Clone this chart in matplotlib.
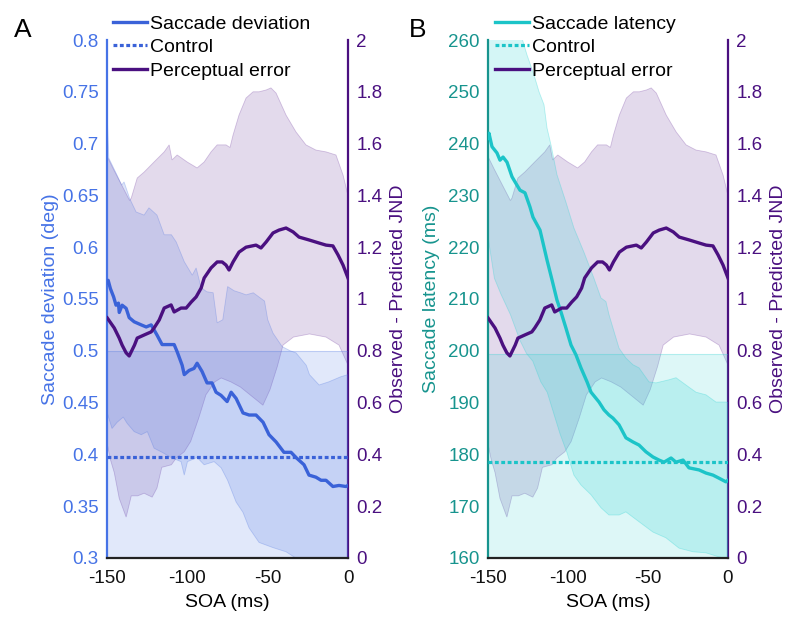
import numpy as np
import matplotlib.pyplot as plt
from matplotlib.lines import Line2D

plt.rcParams['font.family'] = ['Liberation Sans', 'DejaVu Sans']
plt.rcParams['axes.unicode_minus'] = False

# ---- perceptual error (right axis, same in both panels)
pe_soa = [-150, -145.6, -142.5, -140.7, -138.2, -136.3, -133, -131.3, -127, -122.6,
          -120.8, -117.6, -114.5, -110.2, -108.3, -104, -100.8, -97.7, -94.6, -91.5,
          -89.6, -85.3, -81.5, -78.4, -76, -74.1, -71.6, -67.9, -63.5, -57.3,
          -54.2, -51, -46.7, -43, -38.6, -34.2, -30.5, -24.3, -18, -13.7,
          -9.4, -6.2, -3.1, 0]
pe_mean = [0.927, 0.888, 0.849, 0.822, 0.792, 0.780, 0.822, 0.849, 0.861, 0.873,
           0.888, 0.919, 0.965, 0.977, 0.950, 0.965, 0.965, 0.988, 1.008, 1.042,
           1.081, 1.12, 1.143, 1.143, 1.131, 1.112, 1.143, 1.181, 1.2, 1.208,
           1.197, 1.22, 1.255, 1.266, 1.274, 1.259, 1.239, 1.228, 1.216, 1.208,
           1.205, 1.17, 1.131, 1.081]
pe_up_soa = [-150, -146, -141, -136, -135, -131.3, -127, -120.8, -114.5, -111.4,
             -109.6, -106.4, -100.2, -94, -89.6, -85.3, -81.5, -76, -73.5, -71.6,
             -67.9, -63.5, -59.1, -55.4, -51, -48, -44.8, -38.6, -32.4, -26.2,
             -20, -13.7, -7.5, -3.1, 0]
pe_up = [1.55, 1.50, 1.44, 1.38, 1.39, 1.467, 1.49, 1.529, 1.568, 1.595,
         1.537, 1.556, 1.529, 1.506, 1.529, 1.568, 1.595, 1.595, 1.585, 1.633,
         1.71, 1.776, 1.8, 1.8, 1.807, 1.815, 1.795, 1.71, 1.645, 1.595,
         1.575, 1.568, 1.556, 1.479, 1.40]
pe_lo_soa = [-150, -148, -145.6, -142.5, -138.2, -135, -131, -127, -122, -119,
             -116, -110, -107, -102, -98, -93, -88.5, -83, -79, -73,
             -67, -59, -53, -48.6, -44, -40.5, -34, -24, -13.7, -5.6, 0]
pe_lo = [0.44, 0.38, 0.33, 0.23, 0.158, 0.24, 0.24, 0.25, 0.235, 0.27,
         0.35, 0.36, 0.386, 0.41, 0.45, 0.54, 0.63, 0.68, 0.695, 0.68,
         0.66, 0.62, 0.59, 0.65, 0.74, 0.822, 0.853, 0.865, 0.853, 0.822, 0.745]

# ---- panel A: saccade deviation (deg)
dev_soa = [-150, -149.4, -148, -146, -144.5, -143, -142.5, -140.7, -138.2, -136.3,
           -133.2, -128.8, -125.7, -122.6, -118.9, -115.8, -112.7, -108.3, -106.4, -103.3,
           -102, -99, -95.9, -94, -90.9, -87.8, -84.7, -82.2, -79.1, -75.3,
           -72.8, -69.7, -65.4, -61.6, -57.3, -52.9, -49.2, -44.8, -39.9, -35.5,
           -32.4, -27.4, -24.3, -20, -16.8, -13.7, -9.4, -5.6, -1.3, 0]
dev_mean = [0.566, 0.568, 0.560, 0.552, 0.544, 0.546, 0.537, 0.544, 0.541, 0.532,
            0.528, 0.525, 0.523, 0.525, 0.515, 0.506, 0.506, 0.506, 0.499, 0.486,
            0.477, 0.481, 0.483, 0.488, 0.480, 0.469, 0.469, 0.460, 0.457, 0.451,
            0.460, 0.454, 0.440, 0.438, 0.438, 0.431, 0.419, 0.412, 0.402, 0.402,
            0.397, 0.390, 0.380, 0.378, 0.375, 0.375, 0.369, 0.370, 0.369, 0.370]
dev_up_soa = [-150, -149, -144, -141, -139.5, -136, -132, -127, -124, -119,
              -114.5, -110, -107, -102, -97, -94.6, -91.5, -88, -84, -81.5,
              -78, -75, -71, -67, -63.5, -59, -52, -50, -46.7, -41,
              -36, -32.4, -26, -24, -18, -12, -4.4, 0]
dev_up = [0.728, 0.686, 0.670, 0.660, 0.663, 0.647, 0.634, 0.631, 0.638, 0.631,
          0.612, 0.612, 0.605, 0.586, 0.573, 0.580, 0.561, 0.557, 0.556, 0.527,
          0.530, 0.562, 0.558, 0.556, 0.554, 0.556, 0.548, 0.530, 0.517, 0.504,
          0.500, 0.498, 0.486, 0.477, 0.467, 0.470, 0.475, 0.477]
dev_lo_soa = [-150, -147, -143.8, -140, -137.6, -133.2, -128.8, -125, -120.8, -115.8,
              -110.2, -104, -102, -100, -94, -89.6, -83.4, -79, -75, -69.7,
              -65.4, -61.6, -55.4, -46.7, -38.6, -33.6, -25, -10, 0]
dev_lo = [0.44, 0.425, 0.431, 0.436, 0.430, 0.422, 0.419, 0.422, 0.406, 0.402,
          0.397, 0.393, 0.380, 0.393, 0.397, 0.390, 0.393, 0.387, 0.375, 0.354,
          0.344, 0.329, 0.315, 0.310, 0.306, 0.301, 0.29, 0.28, 0.275]
dev_ctrl_soa = [-150, 0]
dev_ctrl = [0.397, 0.397]
dev_ctrl_lo = [0.29, 0.29]
dev_ctrl_hi = [0.5, 0.5]
dev_ticks = [0.3, 0.35, 0.4, 0.45, 0.5, 0.55, 0.6, 0.65, 0.7, 0.75, 0.8]
dev_ticklabels = ['0.3', '0.35', '0.4', '0.45', '0.5', '0.55', '0.6', '0.65', '0.7', '0.75', '0.8']

# ---- panel B: saccade latency (ms)
lat_soa = [-150, -149.4, -147.5, -144.4, -142.5, -140.6, -138.1, -135, -133.1, -130,
           -126.9, -123.8, -121.9, -117.5, -113.1, -110, -106.9, -104.4, -101.3, -98.1,
           -95, -91.9, -88.1, -85.6, -80.6, -77.5, -74.4, -71.9, -68.1, -63.8,
           -59.4, -55.6, -51.3, -46.9, -43.1, -40, -35.6, -32.5, -28.1, -24.4,
           -18.1, -13.8, -9.4, -5.6, -1.3, 0]
lat_mean = [241, 242, 239.4, 238.2, 236.8, 237.4, 236.4, 233.6, 232.6, 231,
            230.5, 227.8, 225.8, 223.3, 217.5, 213.7, 209.8, 207.5, 204.4, 201.1,
            199.2, 196.7, 194, 192, 190.1, 188.6, 187.6, 187, 185.7, 183.2,
            182.4, 181.8, 180.5, 179.5, 178.9, 178.5, 179.3, 178.5, 178.9, 177.4,
            177, 176.4, 176, 175.4, 174.7, 175]
lat_up_soa = [-150, -129.4, -125.6, -121.2, -118.1, -115, -113.1, -110.6, -106.9, -101.3,
              -96.3, -90, -83.8, -79.4, -76.3, -74.4, -71.9, -68.1, -63.8, -59.4,
              -55.6, -49.4, -45, -36.9, -32.5, -26.3, -20, -13.8, -7.5, -1.3, 0]
lat_up = [265, 261, 257.1, 253.2, 250, 247.5, 243, 239.7, 234, 228.7,
          223.7, 219, 214, 210.2, 209.5, 207, 204.4, 200.5, 198.6, 197.3,
          196.7, 194, 193.8, 194.4, 194.8, 193.4, 192, 191.5, 190.1, 190.1, 190]
lat_lo_soa = [-150, -146, -142, -136, -130, -126, -122, -117, -113, -109,
              -105, -100.6, -96.3, -91.9, -85.6, -79.4, -74.4, -68.1, -63.8, -55.6,
              -46.9, -38.8, -30.6, -21.9, -13.8, -5.6, 0]
lat_lo = [222, 214, 211, 207, 202, 199.5, 198, 194, 192, 188,
          184, 180.3, 176, 174.1, 172.2, 169.7, 168.3, 168.3, 168.9, 167,
          165, 163.9, 161.9, 161.2, 161, 160.2, 159.8]
lat_ctrl_soa = [-150, 0]
lat_ctrl = [178.5, 178.5]
lat_ctrl_lo = [155, 155]
lat_ctrl_hi = [199.3, 199.3]
lat_ticks = list(range(160, 261, 10))
lat_ticklabels = [str(t) for t in lat_ticks]

jnd_ticks = [0, 0.2, 0.4, 0.6, 0.8, 1, 1.2, 1.4, 1.6, 1.8, 2]
jnd_ticklabels = ['0', '0.2', '0.4', '0.6', '0.8', '1', '1.2', '1.4', '1.6', '1.8', '2']
soa_ticks = [-150, -100, -50, 0]

PURPLE = '#4a1080'
PURPLE_BAND = '#8a5fb0'


def band(ax, xu, yu, xl, yl, color, alpha, z):
    xs = list(xu) + list(xl)[::-1]
    ys = list(yu) + list(yl)[::-1]
    ax.fill(xs, ys, facecolor=color, alpha=alpha, edgecolor='none', zorder=z)
    ax.fill(xs, ys, facecolor='none', edgecolor=color, alpha=min(alpha * 1.6, 1),
            lw=0.6, zorder=z)


def panel(rect, letter, letter_x, mean_soa, mean, up_soa, up, lo_soa, lo,
          c_soa, c_val, c_lo, c_hi, ylim, yticks, yticklabels, ylabel, ylabel_x,
          line_c, axis_c, band_c, band_a, ctrl_a, name, leg_x):
    ax = fig.add_axes(rect)
    axr = ax.twinx()
    axp = ax.twinx()
    axr.set_zorder(1)
    ax.set_zorder(2)
    axp.set_zorder(3)
    ax.patch.set_visible(False)
    axp.patch.set_visible(False)

    # right axis: perceptual error band behind everything
    band(axr, pe_up_soa, pe_up, pe_lo_soa, pe_lo, PURPLE_BAND, 0.23, 1)
    axr.set_ylim(0, 2)
    axr.set_yticks(jnd_ticks)
    axr.set_yticklabels(jnd_ticklabels)
    axr.tick_params(axis='y', colors=PURPLE, labelsize=13.5, length=0, pad=6)
    axr.set_ylabel('Observed - Predicted JND', color=PURPLE, fontsize=14, labelpad=5)
    for s in ['top', 'left', 'bottom']:
        axr.spines[s].set_visible(False)
    axr.spines['right'].set_color(PURPLE)
    axr.spines['right'].set_linewidth(1.6)

    # left axis: saccade measure
    ax.fill_between(c_soa, c_lo, c_hi, color=band_c, alpha=ctrl_a, lw=0, zorder=1)
    ax.plot(c_soa, c_hi, color=band_c, alpha=0.25, lw=0.8, zorder=1)
    band(ax, up_soa, up, lo_soa, lo, band_c, band_a, 2)
    ax.plot(c_soa, c_val, color=line_c, lw=2.3, linestyle=(0, (1.2, 0.8)), zorder=3)
    ax.plot(mean_soa, mean, color=line_c, lw=2.4, zorder=4)
    ax.set_xlim(-150, 0)
    ax.set_ylim(*ylim)
    ax.set_yticks(yticks)
    ax.set_yticklabels(yticklabels)
    ax.set_xticks(soa_ticks)
    ax.tick_params(axis='y', colors=axis_c, labelsize=13.5, length=0, pad=6)
    ax.tick_params(axis='x', colors='#111111', labelsize=13.5, length=0, pad=9)
    ax.set_xlabel('SOA (ms)', fontsize=14, labelpad=5)
    ax.set_ylabel(ylabel, color=axis_c, fontsize=14)
    ax.yaxis.set_label_coords(ylabel_x, 0.5)
    ax.spines['top'].set_visible(False)
    ax.spines['right'].set_visible(False)
    ax.spines['left'].set_color(axis_c)
    ax.spines['left'].set_linewidth(1.6)
    ax.spines['bottom'].set_color('#222222')
    ax.spines['bottom'].set_linewidth(1.6)

    # perceptual error mean on top
    axp.plot(pe_soa, pe_mean, color=PURPLE, lw=2.4)
    axp.set_ylim(0, 2)
    axp.set_yticks([])
    for s in axp.spines.values():
        s.set_visible(False)

    handles = [Line2D([], [], color=line_c, lw=2.4),
               Line2D([], [], color=line_c, lw=2.3, linestyle=(0, (1.2, 0.8))),
               Line2D([], [], color=PURPLE, lw=2.4)]
    fig.legend(handles, [name, 'Control', 'Perceptual error'],
               loc='upper left', bbox_to_anchor=(leg_x, 0.976), frameon=False,
               fontsize=14, handlelength=1.75, handletextpad=0.15,
               labelspacing=0.3, borderpad=0, borderaxespad=0)
    fig.text(letter_x, 0.972, letter, fontsize=19, va='top', ha='left')


fig = plt.figure(figsize=(8, 6.28), dpi=100)

panel([0.134, 0.1115, 0.301, 0.8248], 'A', 0.018,
      dev_soa, dev_mean, dev_up_soa, dev_up, dev_lo_soa, dev_lo,
      dev_ctrl_soa, dev_ctrl, dev_ctrl_lo, dev_ctrl_hi,
      (0.3, 0.8), dev_ticks, dev_ticklabels,
      'Saccade deviation (deg)', -0.2,
      '#3a62d8', '#4673e6', '#4a72e0', 0.18, 0.16, 'Saccade deviation', 0.141)

panel([0.61, 0.1115, 0.30, 0.8248], 'B', 0.511,
      lat_soa, lat_mean, lat_up_soa, lat_up, lat_lo_soa, lat_lo,
      lat_ctrl_soa, lat_ctrl, lat_ctrl_lo, lat_ctrl_hi,
      (160, 260), lat_ticks, lat_ticklabels,
      'Saccade latency (ms)', -0.2,
      '#1cc4c8', '#17948e', '#2cd3d3', 0.2, 0.16, 'Saccade latency', 0.619)

fig.savefig('out.png', dpi=100, facecolor='white')
